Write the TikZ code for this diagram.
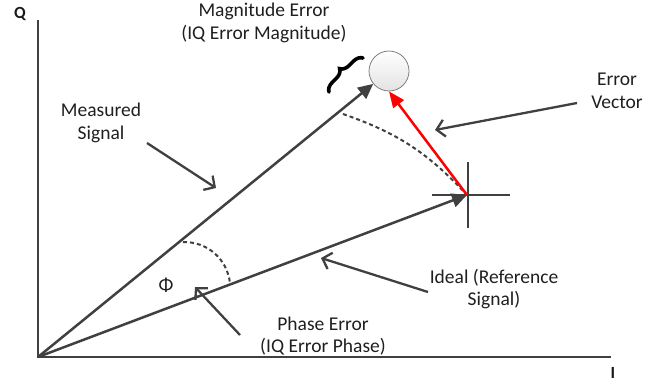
\documentclass[tikz,border=0pt]{standalone}
\usepackage{fontspec}
\setmainfont{Carlito}
\usetikzlibrary{arrows.meta,decorations.pathreplacing}
\definecolor{dg}{HTML}{404040}
\begin{document}
\begin{tikzpicture}[x=1pt,y=-1pt,
  lbl/.style={align=center,font=\fontsize{19.5}{22.5}\selectfont,inner sep=0pt,text=black!88},
  axlbl/.style={font=\bfseries\fontsize{17}{19}\selectfont,inner sep=0pt,text=black!90},
  axis/.style={dg,line width=2.5pt},
  vec/.style={dg,line width=2.5pt,-{Triangle[length=15pt,width=14pt]}},
  errvec/.style={red,line width=2.5pt,-{Triangle[length=16pt,width=13pt]}},
  callout/.style={dg,line width=2.3pt,-{Straight Barb[length=8pt,width=17pt,line width=2.3pt]}},
  arcd/.style={dg,line width=2pt,dash pattern=on 4pt off 3pt},
  cross/.style={dg,line width=2.5pt}]
\useasboundingbox (0,0) rectangle (659,386);
% axes
\coordinate (O) at (38,357);
\coordinate (Qtop) at (38,20);
\coordinate (Iend) at (611,357);
\draw[axis] (Qtop) -- (O) -- (Iend);
\node[axlbl] (Q) at (20,14) {Q};
\node[axlbl] (I) at (613,373) {I};
% error circle
\node[circle,draw=gray,line width=0.8pt,minimum size=40pt,inner sep=0pt,top color=white,bottom color=gray!22] (err) at (389,71) {};
% ideal point
\coordinate (X) at (467,195);
% dashed arcs
\coordinate (a1) at (343,114);
\coordinate (a2) at (183,242);
\coordinate (a3) at (230,283);
\draw[arcd] (a1) to[bend left=14] (X);
\draw[arcd] (a2) to[bend left=42] (a3);
% vectors
\draw[vec] (O) -- (err);
\draw[vec] (O) -- (X);
% crosshair
\coordinate (cl) at (432,195);
\coordinate (cr) at (510,195);
\coordinate (ct) at (468,162);
\coordinate (cb) at (468,228);
\draw[cross] (cl) -- (cr);
\draw[cross] (ct) -- (cb);
% error vector
\draw[errvec] (X) -- (err.south);
% brace
\coordinate (b1) at (329,92);
\coordinate (b2) at (363,58);
\draw[decorate,decoration={brace,amplitude=9pt},line width=3.6pt,black,line cap=round] (b1) -- (b2);
% labels
\node[lbl] (mag) at (264,23) {Magnitude Error\\(IQ Error Magnitude)};
\node[lbl] (meas) at (101,123) {Measured\\Signal};
\node[lbl] (evec) at (617,91) {Error\\Vector};
\node[lbl] (ideal) at (494,289) {Ideal (Reference\\Signal)};
\node[lbl] (phase) at (323,336) {Phase Error\\(IQ Error Phase)};
\node[lbl] (phi) at (166,285) {Φ};
% callouts
\coordinate (m1) at (147,143);
\coordinate (m2) at (216,188);
\draw[callout] (m1) -- (m2);
\coordinate (e1) at (577,103);
\coordinate (e2) at (435,130);
\draw[callout] (e1) -- (e2);
\coordinate (i1) at (428,292);
\coordinate (i2) at (321,258);
\draw[callout] (i1) -- (i2);
\coordinate (p1) at (240,335);
\coordinate (p2) at (195,287);
\draw[callout] (p1) -- (p2);
\end{tikzpicture}
\end{document}
